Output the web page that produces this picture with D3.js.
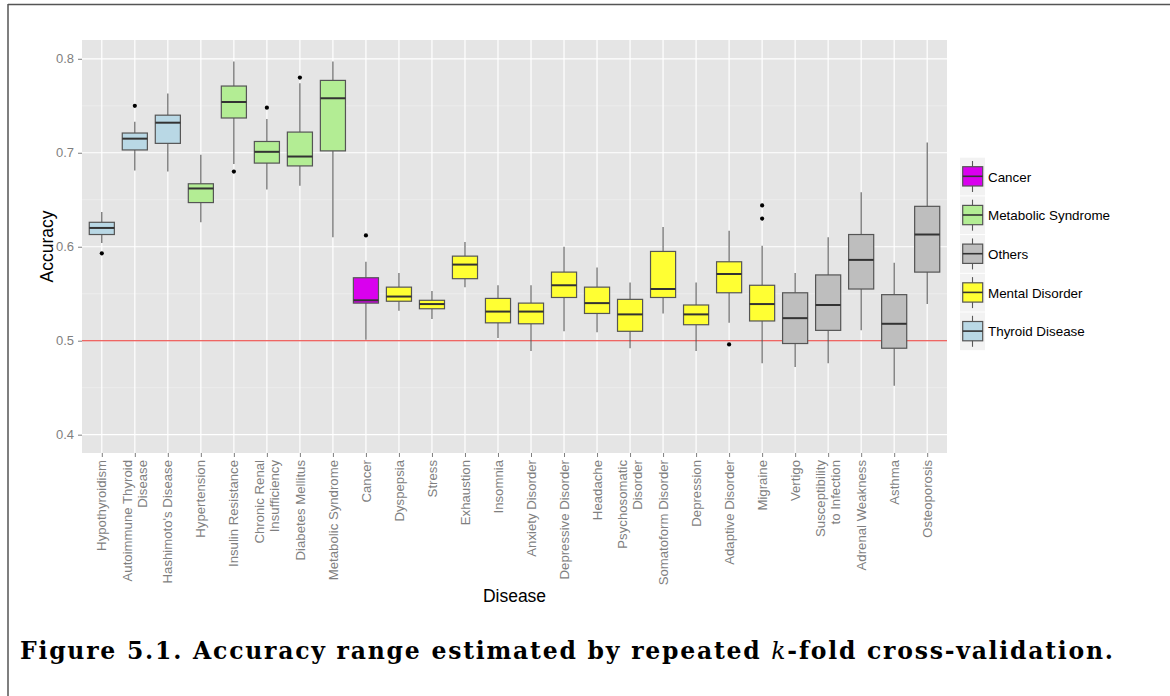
<!DOCTYPE html>
<meta charset="utf-8">
<style>
  body { margin: 0; background: #fff; }
  svg { display: block; }
</style>
<svg width="1170" height="696"></svg>
<script src="https://d3js.org/d3.v7.min.js"></script>
<script>

var diseases = ["Hypothyroidism", "Autoimmune Thyroid\nDisease", "Hashimoto's Disease", "Hypertension",
  "Insulin Resistance", "Chronic Renal\nInsufficiency", "Diabetes Mellitus", "Metabolic Syndrome",
  "Cancer", "Dyspepsia", "Stress", "Exhaustion", "Insomnia", "Anxiety Disorder", "Depressive Disorder",
  "Headache", "Psychosomatic\nDisorder", "Somatoform Disorder", "Depression", "Adaptive Disorder",
  "Migraine", "Vertigo", "Susceptibility\nto Infection", "Adrenal Weakness", "Asthma", "Osteoporosis"];

var groups = ["Thyroid Disease", "Thyroid Disease", "Thyroid Disease",
  "Metabolic Syndrome", "Metabolic Syndrome", "Metabolic Syndrome", "Metabolic Syndrome", "Metabolic Syndrome",
  "Cancer",
  "Mental Disorder", "Mental Disorder", "Mental Disorder", "Mental Disorder", "Mental Disorder", "Mental Disorder",
  "Mental Disorder", "Mental Disorder", "Mental Disorder", "Mental Disorder", "Mental Disorder", "Mental Disorder",
  "Others", "Others", "Others", "Others", "Others"];

var whiskLo = [0.604, 0.681, 0.680, 0.626, 0.688, 0.661, 0.665, 0.610, 0.501, 0.532, 0.523, 0.557, 0.503,
  0.489, 0.510, 0.509, 0.492, 0.529, 0.489, 0.519, 0.476, 0.472, 0.476, 0.511, 0.452, 0.539];
var q1 = [0.613, 0.703, 0.710, 0.647, 0.737, 0.689, 0.686, 0.702, 0.540, 0.542, 0.534, 0.566, 0.519,
  0.518, 0.546, 0.529, 0.510, 0.546, 0.517, 0.551, 0.521, 0.497, 0.511, 0.555, 0.492, 0.573];
var median = [0.620, 0.715, 0.732, 0.662, 0.754, 0.701, 0.696, 0.758, 0.543, 0.547, 0.539, 0.581, 0.531,
  0.531, 0.559, 0.540, 0.528, 0.555, 0.528, 0.571, 0.539, 0.524, 0.538, 0.586, 0.518, 0.613];
var q3 = [0.626, 0.721, 0.740, 0.667, 0.771, 0.712, 0.722, 0.777, 0.567, 0.557, 0.543, 0.590, 0.545,
  0.540, 0.573, 0.557, 0.544, 0.595, 0.538, 0.584, 0.559, 0.551, 0.570, 0.613, 0.549, 0.643];
var whiskHi = [0.637, 0.733, 0.763, 0.698, 0.797, 0.736, 0.774, 0.797, 0.584, 0.572, 0.553, 0.605, 0.559,
  0.559, 0.600, 0.578, 0.562, 0.621, 0.562, 0.617, 0.601, 0.572, 0.610, 0.658, 0.583, 0.711];

// [index of disease, value]
var outliers = [[0, 0.593], [1, 0.750], [4, 0.680], [5, 0.748], [6, 0.780], [8, 0.612],
  [19, 0.496], [20, 0.644], [20, 0.630]];

var legendGroups = ["Cancer", "Metabolic Syndrome", "Others", "Mental Disorder", "Thyroid Disease"];
var groupColors = ["#d900ee", "#b3ed94", "#bebebe", "#ffff33", "#b9d8e5"];
var yTicks = [0.4, 0.5, 0.6, 0.7, 0.8];
var yMinor = [0.45, 0.55, 0.65, 0.75];
var baseline = 0.5;

var pLeft = 82, pRight = 947, pTop = 40, pBottom = 453;

var svg = d3.select("svg");

var x = d3.scalePoint().domain(d3.range(diseases.length)).range([pLeft, pRight]).padding(0.6);
var y = d3.scaleLinear().domain([0.3805, 0.82]).range([pBottom, pTop]);
var color = d3.scaleOrdinal().domain(legendGroups).range(groupColors);
var bw = x.step() * 0.76;

// frame of the page crop
svg.append("line").attr("x1", 8).attr("x2", 1170).attr("y1", 4.5).attr("y2", 4.5)
  .attr("stroke", "#555").attr("stroke-width", 1.5);
svg.append("line").attr("x1", 8).attr("x2", 8).attr("y1", 4).attr("y2", 696)
  .attr("stroke", "#555").attr("stroke-width", 1.5);

// panel
svg.append("rect").attr("x", pLeft).attr("y", pTop).attr("width", pRight - pLeft).attr("height", pBottom - pTop)
  .attr("fill", "#e5e5e5");

svg.append("g").selectAll("line").data(yMinor).join("line")
  .attr("x1", pLeft).attr("x2", pRight).attr("y1", y).attr("y2", y)
  .attr("stroke", "#f2f2f2").attr("stroke-width", 0.6);
svg.append("g").selectAll("line").data(yTicks).join("line")
  .attr("x1", pLeft).attr("x2", pRight).attr("y1", y).attr("y2", y)
  .attr("stroke", "#fff").attr("stroke-width", 1.2);
svg.append("g").selectAll("line").data(x.domain()).join("line")
  .attr("x1", x).attr("x2", x).attr("y1", pTop).attr("y2", pBottom)
  .attr("stroke", "#fff").attr("stroke-width", 1.2);

// axes
var yAxis = svg.append("g").attr("transform", "translate(" + pLeft + ",0)")
  .call(d3.axisLeft(y).tickValues(yTicks).tickSize(4).tickPadding(4).tickFormat(d3.format(".1f")));
yAxis.select(".domain").remove();
yAxis.selectAll("line").attr("stroke", "#7f7f7f");
yAxis.selectAll("text").attr("fill", "#7f7f7f").attr("font-size", 13)
  .attr("font-family", "Liberation Sans, Arial, sans-serif");

var xAxis = svg.append("g").attr("transform", "translate(0," + pBottom + ")")
  .call(d3.axisBottom(x).tickSize(4).tickFormat(""));
xAxis.select(".domain").remove();
xAxis.selectAll("line").attr("stroke", "#7f7f7f");

var xLab = svg.append("g").selectAll("text").data(diseases).join("text")
  .attr("transform", function(d, i) { return "translate(" + x(i) + ",460) rotate(-90)"; })
  .attr("text-anchor", "end")
  .attr("fill", "#7f7f7f").attr("font-size", 13.2)
  .attr("font-family", "Liberation Sans, Arial, sans-serif");
xLab.each(function(d) {
  var lines = d.split("\n");
  d3.select(this).selectAll("tspan").data(lines).join("tspan")
    .attr("x", 0)
    .attr("y", function(l, j) { return (j - (lines.length - 1) / 2) * 15; })
    .attr("dy", "0.35em")
    .text(function(l) { return l; });
});

// reference line
svg.append("line").attr("x1", pLeft).attr("x2", pRight).attr("y1", y(baseline)).attr("y2", y(baseline))
  .attr("stroke", "#e8332f").attr("stroke-width", 1.1);

// boxes
var boxes = svg.append("g").selectAll("g").data(diseases).join("g");
boxes.append("line")
  .attr("x1", function(d, i) { return x(i); }).attr("x2", function(d, i) { return x(i); })
  .attr("y1", function(d, i) { return y(whiskHi[i]); }).attr("y2", function(d, i) { return y(q3[i]); })
  .attr("stroke", "#595959").attr("stroke-width", 1.1);
boxes.append("line")
  .attr("x1", function(d, i) { return x(i); }).attr("x2", function(d, i) { return x(i); })
  .attr("y1", function(d, i) { return y(q1[i]); }).attr("y2", function(d, i) { return y(whiskLo[i]); })
  .attr("stroke", "#595959").attr("stroke-width", 1.1);
boxes.append("rect")
  .attr("x", function(d, i) { return x(i) - bw / 2; }).attr("width", bw)
  .attr("y", function(d, i) { return y(q3[i]); })
  .attr("height", function(d, i) { return y(q1[i]) - y(q3[i]); })
  .attr("fill", function(d, i) { return color(groups[i]); })
  .attr("stroke", "#555").attr("stroke-width", 1.2);
boxes.append("line")
  .attr("x1", function(d, i) { return x(i) - bw / 2; }).attr("x2", function(d, i) { return x(i) + bw / 2; })
  .attr("y1", function(d, i) { return y(median[i]); }).attr("y2", function(d, i) { return y(median[i]); })
  .attr("stroke", "#333").attr("stroke-width", 2);

svg.append("g").selectAll("circle").data(outliers).join("circle")
  .attr("cx", function(d) { return x(d[0]); }).attr("cy", function(d) { return y(d[1]); })
  .attr("r", 2.1).attr("fill", "#000");

// axis titles
svg.append("text").attr("transform", "translate(53," + ((pTop + pBottom) / 2) + ") rotate(-90)")
  .attr("text-anchor", "middle").attr("font-size", 17.5)
  .attr("font-family", "Liberation Sans, Arial, sans-serif").text("Accuracy");
svg.append("text").attr("x", (pLeft + pRight) / 2).attr("y", 602)
  .attr("text-anchor", "middle").attr("font-size", 17.5)
  .attr("font-family", "Liberation Sans, Arial, sans-serif").text("Disease");

// legend
var keyH = 38.7, keyW = 25, lx = 960, ly = 157.7;
var keys = svg.append("g").selectAll("g").data(legendGroups).join("g")
  .attr("transform", function(d, i) { return "translate(" + lx + "," + (ly + i * keyH) + ")"; });
keys.append("rect").attr("width", keyW).attr("height", keyH - 1).attr("fill", "#f2f2f2");
keys.append("line").attr("x1", keyW / 2).attr("x2", keyW / 2).attr("y1", 3.3).attr("y2", 34.3)
  .attr("stroke", "#595959").attr("stroke-width", 1.1);
keys.append("rect").attr("x", 2.7).attr("y", 9).attr("width", 20).attr("height", 19.3)
  .attr("fill", function(d) { return color(d); }).attr("stroke", "#555").attr("stroke-width", 1.2);
keys.append("line").attr("x1", 2.7).attr("x2", 22.7).attr("y1", 18.6).attr("y2", 18.6)
  .attr("stroke", "#333").attr("stroke-width", 1.6);
keys.append("text").attr("x", 28).attr("y", 19.3).attr("dy", "0.35em")
  .attr("font-size", 13.4).attr("font-family", "Liberation Sans, Arial, sans-serif")
  .text(function(d) { return d; });

// caption
var cap = svg.append("text").attr("x", 20).attr("y", 659)
  .attr("font-family", "DejaVu Serif, serif").attr("font-weight", "bold").attr("font-size", 23.5)
  .attr("textLength", 1093).attr("lengthAdjust", "spacing");
cap.append("tspan").text("Figure 5.1.  Accuracy range estimated by repeated ");
cap.append("tspan").attr("font-style", "italic").attr("font-weight", "normal").text("k");
cap.append("tspan").text("-fold cross-validation.");

</script>
